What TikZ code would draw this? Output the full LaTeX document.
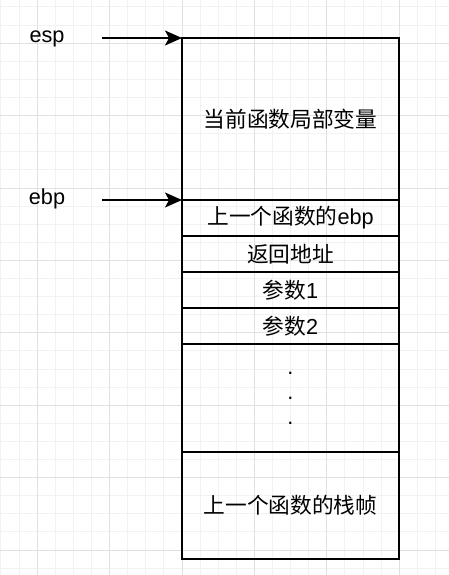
\documentclass[tikz,border=0pt]{standalone}
\usepackage{fontspec}
\setmainfont{Liberation Sans}
\newfontfamily\cjk{Noto Sans CJK SC}
\usetikzlibrary{positioning, arrows.meta}

\tikzset{
  stackCell/.style={rectangle, draw, line width=1.5pt, outer sep=0pt, inner sep=0pt,
    minimum width=217pt, font=\fontsize{21.7}{25}\selectfont},
  pointerLabel/.style={anchor=base, font=\fontsize{21.7}{25}\selectfont},
  pointerArrow/.style={line width=1.5pt, -{Stealth[length=17pt, width=15pt, inset=4pt]}},
  minorGrid/.style={draw=black!5, line width=1pt},
  majorGrid/.style={draw=black!12, line width=1pt}
}

\begin{document}
\begin{tikzpicture}[x=1pt, y=-1pt]
        \useasboundingbox (0,0) rectangle (449,575);
        \fill[white] (0,0) rectangle (449,575);

        % background grid
        \foreach \k in {-10,...,14} \draw[minorGrid] ({182+18.1*\k},0) -- ++(0,575);
        \foreach \k in {0,...,31} \draw[minorGrid] (0,{7+18.1*\k}) -- ++(449,0);
        \foreach \k in {-8,-4,...,12} \draw[majorGrid] ({182+18.1*\k},0) -- ++(0,575);
        \foreach \k in {2,6,...,30} \draw[majorGrid] (0,{7+18.1*\k}) -- ++(449,0);

        % stack frame
        \node[stackCell, minimum height=162pt] (localVars) at (290.5, 119) {\cjk 当前函数局部变量};
        \node[stackCell, minimum height=36pt] (prevEbp) [below = 0pt of localVars] {{\cjk 上一个函数的}ebp};
        \node[stackCell, minimum height=36pt] (retAddr) [below = 0pt of prevEbp] {\cjk 返回地址};
        \node[stackCell, minimum height=36pt] (argOne) [below = 0pt of retAddr] {{\cjk 参数}1};
        \node[stackCell, minimum height=36pt] (argTwo) [below = 0pt of argOne] {{\cjk 参数}2};
        \node[stackCell, minimum height=108pt, align=center] (moreArgs) [below = 0pt of argTwo] {.\\.\\.};
        \node[stackCell, minimum height=107pt] (prevFrame) [below = 0pt of moreArgs] {\cjk 上一个函数的栈帧};

        % registers
        \node[pointerLabel] (espLabel) at (47, 43) {esp};
        \node[pointerLabel] (ebpLabel) at (47, 204) {ebp};
        \coordinate (espTail) at (102, 38);
        \coordinate (ebpTail) at (102, 200);

        \draw[pointerArrow] (espTail) -- (localVars.north west);
        \draw[pointerArrow] (ebpTail) -- (prevEbp.north west);
      \end{tikzpicture}
\end{document}
